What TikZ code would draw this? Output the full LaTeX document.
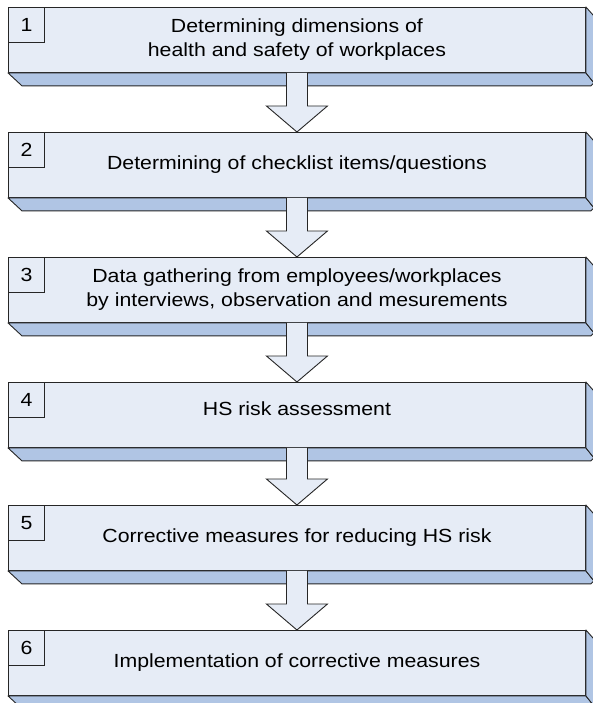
\documentclass[tikz,border=0pt]{standalone}
\usepackage{fontspec}
\setmainfont[FakeStretch=1.12]{Liberation Sans}
\usetikzlibrary{calc,positioning}

\tikzset{
  stepface/.style={draw=cline,fill=cfront,line width=0.9pt,minimum width=577pt,minimum height=65pt,inner sep=0pt,align=center,anchor=north west,font=\fontsize{19}{24}\selectfont},
  stepno/.style={draw=cline,fill=cfront,line width=0.9pt,minimum width=36pt,minimum height=35pt,inner sep=0pt,anchor=north west,font=\fontsize{19}{24}\selectfont},
  stepdepth/.style={draw=cline,fill=cdepth,line width=0.9pt,line join=round},
  bigarrow/.style={draw=cline,fill=cfront,line width=0.9pt,line join=miter},
}

\begin{document}
\begin{tikzpicture}[x=1pt,y=-1pt]
%
\useasboundingbox (0,0) rectangle (593,703);
%
\definecolor{cfront}{rgb}{0.902,0.925,0.965}
\definecolor{cdepth}{rgb}{0.690,0.773,0.894}
\definecolor{cline}{rgb}{0.15,0.15,0.15}
%
\node[stepface] (s1) at (8,7) {Determining dimensions of\\health and safety of workplaces};
\node[stepface] (s2) at (8,132) {Determining of checklist items/questions};
\node[stepface] (s3) at (8,257) {Data gathering from employees/workplaces\\by interviews, observation and mesurements};
\node[stepface] (s4) at (8,382) {HS risk assessment\\[-12pt]};
\node[stepface] (s5) at (8,505) {Corrective measures for reducing HS risk};
\node[stepface] (s6) at (8,630) {Implementation of corrective measures};
%
\node[stepno] (n1) at (s1.north west) {1};
\node[stepno] (n2) at (s2.north west) {2};
\node[stepno] (n3) at (s3.north west) {3};
\node[stepno] (n4) at (s4.north west) {4};
\node[stepno] (n5) at (s5.north west) {5};
\node[stepno] (n6) at (s6.north west) {6};
%
\foreach \s in {s1,s2,s3,s4,s5,s6}{
  \draw[stepdepth] (\s.south west) -- (\s.south east) -- ($(\s.south east)+(8,10)$) -- ($(\s.south east)+(5,13)$) -- ($(\s.south west)+(14,13)$) -- cycle;
  \draw[stepdepth] (\s.north east) -- ($(\s.north east)+(8,9)$) -- ($(\s.south east)+(8,10)$) -- (\s.south east) -- cycle;
}
%
\foreach \a/\b in {s1/s2,s2/s3,s3/s4,s4/s5,s5/s6}{
  \draw[bigarrow] ($(\a.south)+(-10.5,0)$) -- ($(\b.north)+(-10.5,-26)$) -- ($(\b.north)+(-30.5,-26)$) -- (\b.north) -- ($(\b.north)+(30.5,-26)$) -- ($(\b.north)+(10.5,-26)$) -- ($(\a.south)+(10.5,0)$);
}
%
\end{tikzpicture}
\end{document}
